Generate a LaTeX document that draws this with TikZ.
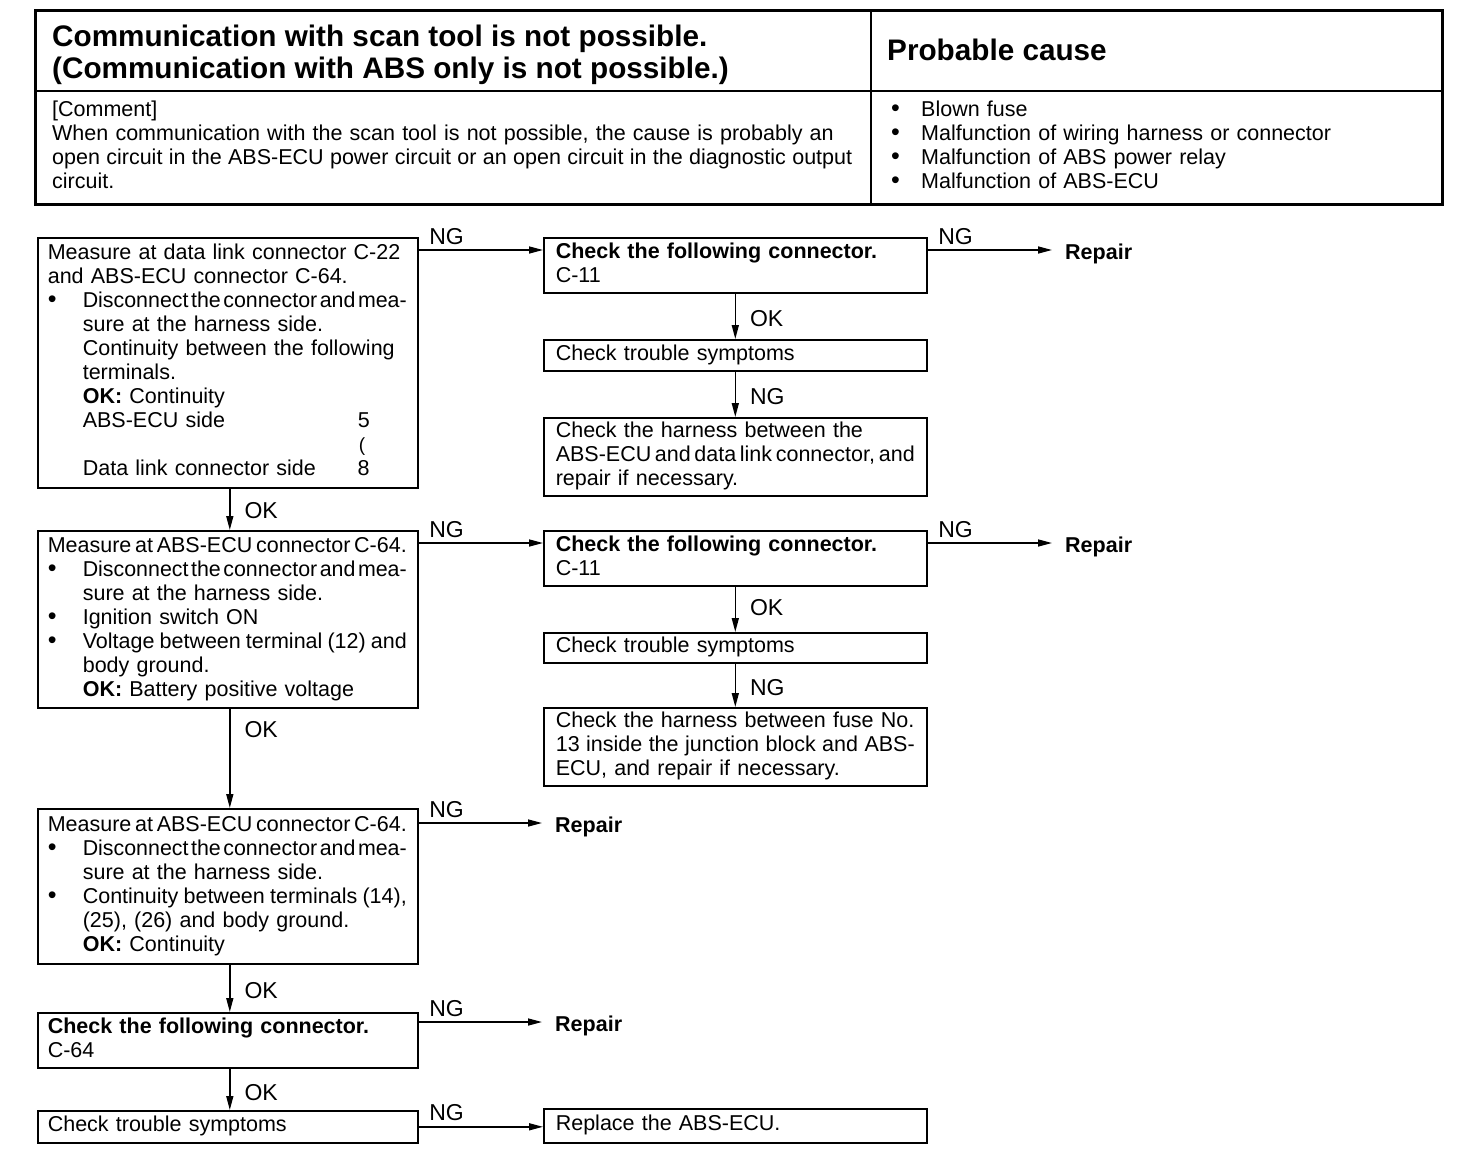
\documentclass[tikz,border=0pt]{standalone}
\usepackage{fontspec}
\setmainfont{Liberation Sans}
\usepackage{graphicx}
\usetikzlibrary{arrows.meta}
\newsavebox\jlbox
\makeatletter
\newcommand\jline[2]{\sbox\jlbox{#2}\ifdim\wd\jlbox>#1\relax
 \sbox\jlbox{\spaceskip=0.12em\relax #2}%
 \ifdim\wd\jlbox>#1\relax
  \edef\jlr{\strip@pt\dimexpr1pt*\dimexpr#1\relax/\wd\jlbox\relax}\scalebox{\jlr}[1]{\usebox\jlbox}%
 \else\makebox[#1][s]{\spaceskip=0.12em plus 1fil\relax #2}\fi
 \else\makebox[#1][s]{#2}\fi}
\makeatother
\newcommand\bodyfont{\fontsize{21.5}{24}\selectfont}
\newcommand\bulsym{{\fontsize{25}{24}\selectfont\textbullet}}
\newcommand\bul{\makebox[35pt][l]{\bulsym}}
\newcommand\ind{\hspace*{35pt}}
\begin{document}
\begin{tikzpicture}[x=1pt,y=-1pt,
 box/.style={draw, line width=1.6pt, anchor=north west, inner xsep=10pt, inner ysep=0pt, text width=360pt, align=left, font=\bodyfont},
 rbox/.style={box, inner xsep=12pt, text width=359pt},
 arr/.style={line width=1.5pt, -{Triangle[length=14pt,width=7pt]}},
 lab/.style={font=\fontsize{23}{24}\selectfont, inner sep=0pt},
 rep/.style={font=\bodyfont\bfseries, inner xsep=13pt, inner ysep=0pt, anchor=west}]
\useasboundingbox (0,0) rectangle (1472,1172);
\fill[white] (0,0) rectangle (1472,1172);

% header table
\draw[line width=3pt] (35,11) rectangle (1442,204);
\draw[line width=2pt] (871,11) -- (871,204);
\draw[line width=2pt] (35,91) -- (1442,91);
\node[anchor=north west, inner sep=0pt, align=left, font=\fontsize{29.7}{32}\selectfont\bfseries] (title) at (52,23.6)
 {\strut Communication with scan tool is not possible.\\(Communication with ABS only is not possible.)\strut};
\node[anchor=base west, inner sep=0pt, font=\fontsize{29.7}{32}\selectfont\bfseries] (pc) at (887,61) {Probable cause};
\node[anchor=north west, inner sep=0pt, text width=800pt, align=left, font=\bodyfont] (comment) at (52,99.2)
 {\strut[Comment]\\
 \jline{800pt}{When communication with the scan tool is not possible, the cause is probably an}\\
 \jline{800pt}{open circuit in the ABS-ECU power circuit or an open circuit in the diagnostic output}\\
 circuit.\strut};
\node[anchor=north west, inner sep=0pt, text width=520pt, align=left, font=\bodyfont] (causes) at (891,99.2)
 {\strut\makebox[30pt][l]{\bulsym}Blown fuse\\
 \makebox[30pt][l]{\bulsym}Malfunction of wiring harness or connector\\
 \makebox[30pt][l]{\bulsym}Malfunction of ABS power relay\\
 \makebox[30pt][l]{\bulsym}Malfunction of ABS-ECU\strut};

% flowchart boxes
\node[box, minimum height=250pt] (A) at (37,237)
 {\strut\jline{359pt}{Measure at data link connector C-22}\\
 and ABS-ECU connector C-64.\\
 \bul\jline{324pt}{Disconnect the connector and mea-}\\
 \ind sure at the harness side.\\
 \ind\jline{324pt}{Continuity between the following}\\
 \ind terminals.\\
 \ind\textbf{OK:} Continuity\\
 \ind\makebox[275pt][l]{ABS-ECU side}5\\
 \ind\makebox[276pt][l]{}{\fontsize{19}{24}\selectfont(}\\
 \ind\makebox[275pt][l]{Data link connector side}8\strut};
\node[rbox, minimum height=55pt] (B) at (543,237)
 {\strut\textbf{Check the following connector.}\\C-11\strut};
\node[rbox, minimum height=31pt] (C) at (543,339) {\strut Check trouble symptoms\strut};
\node[rbox, minimum height=78pt] (D) at (543,417)
 {\strut\jline{359pt}{Check the harness between the}\\
 \jline{359pt}{ABS-ECU and data link connector, and}\\
 repair if necessary.\strut};
\node[box, minimum height=177pt] (E) at (37,530)
 {\strut\jline{359pt}{Measure at ABS-ECU connector C-64.}\\
 \bul\jline{324pt}{Disconnect the connector and mea-}\\
 \ind sure at the harness side.\\
 \bul Ignition switch ON\\
 \bul\jline{324pt}{Voltage between terminal (12) and}\\
 \ind body ground.\\
 \ind\textbf{OK:} Battery positive voltage\strut};
\node[rbox, minimum height=55pt] (F) at (543,530)
 {\strut\textbf{Check the following connector.}\\C-11\strut};
\node[rbox, minimum height=30pt] (G) at (543,632) {\strut Check trouble symptoms\strut};
\node[rbox, minimum height=78pt] (H) at (543,707)
 {\strut\jline{359pt}{Check the harness between fuse No.}\\
 \jline{359pt}{13 inside the junction block and ABS-}\\
 ECU, and repair if necessary.\strut};
\node[box, minimum height=155pt] (I) at (37,808)
 {\strut\jline{359pt}{Measure at ABS-ECU connector C-64.}\\
 \bul\jline{324pt}{Disconnect the connector and mea-}\\
 \ind sure at the harness side.\\
 \bul\jline{324pt}{Continuity between terminals (14),}\\
 \ind (25), (26) and body ground.\\
 \ind\textbf{OK:} Continuity\strut};
\node[box, minimum height=55pt] (J) at (37,1012)
 {\strut\textbf{Check the following connector.}\\C-64\strut};
\node[box, minimum height=32pt] (K) at (37,1110) {\strut Check trouble symptoms\strut};
\node[rbox, minimum height=34pt] (L) at (543,1108) {\strut Replace the ABS-ECU.\strut};

% repair targets
\node[rep] (R1) at (1052,254) {Repair};
\node[rep] (R2) at (1052,547) {Repair};
\node[rep] (R3) at (542,827) {Repair};
\node[rep] (R4) at (542,1026) {Repair};

% connector start points
\coordinate (b1) at ([yshift=-13pt]B.north east);
\coordinate (f1) at ([yshift=-13pt]F.north east);
\coordinate (i1) at ([yshift=-15pt]I.north east);
\coordinate (j1) at ([yshift=-10pt]J.north east);

% connectors
\draw[arr] ([yshift=-13pt]A.north east) -- ([yshift=-13pt]B.north west)
 node[lab, pos=0, anchor=south west, xshift=10pt, yshift=5pt] {NG};
\draw[arr] (b1) -- (b1 -| R1.west)
 node[lab, pos=0, anchor=south west, xshift=10pt, yshift=5pt] {NG};
\draw[arr] (B.south) -- (C.north) node[lab, midway, anchor=west, xshift=14pt, yshift=-2pt] {OK};
\draw[arr] (C.south) -- (D.north) node[lab, midway, anchor=west, xshift=14pt, yshift=-2pt] {NG};
\draw[arr] ([xshift=2pt]A.south) -- ([xshift=2pt]E.north) node[lab, midway, anchor=west, xshift=14pt, yshift=-1pt] {OK};
\draw[arr] ([yshift=-13pt]E.north east) -- ([yshift=-13pt]F.north west)
 node[lab, pos=0, anchor=south west, xshift=10pt, yshift=5pt] {NG};
\draw[arr] (f1) -- (f1 -| R2.west)
 node[lab, pos=0, anchor=south west, xshift=10pt, yshift=5pt] {NG};
\draw[arr] (F.south) -- (G.north) node[lab, midway, anchor=west, xshift=14pt, yshift=2pt] {OK};
\draw[arr] (G.south) -- (H.north) node[lab, midway, anchor=west, xshift=14pt, yshift=-2pt] {NG};
\draw[arr] ([xshift=2pt]E.south) -- ([xshift=2pt]I.north) node[lab, pos=0, anchor=north west, xshift=14pt, yshift=-12pt] {OK};
\draw[arr] (i1) -- (i1 -| R3.west)
 node[lab, pos=0, anchor=south west, xshift=10pt, yshift=5pt] {NG};
\draw[arr] ([xshift=2pt]I.south) -- ([xshift=2pt]J.north) node[lab, midway, anchor=west, xshift=14pt, yshift=-2pt] {OK};
\draw[arr] (j1) -- (j1 -| R4.west)
 node[lab, pos=0, anchor=south west, xshift=10pt, yshift=5pt] {NG};
\draw[arr] ([xshift=2pt]J.south) -- ([xshift=2pt]K.north) node[lab, midway, anchor=west, xshift=14pt, yshift=-3pt] {OK};
\draw[arr] (K.east) -- (K.east -| L.west)
 node[lab, pos=0, anchor=south west, xshift=10pt, yshift=5pt] {NG};
\end{tikzpicture}
\end{document}
